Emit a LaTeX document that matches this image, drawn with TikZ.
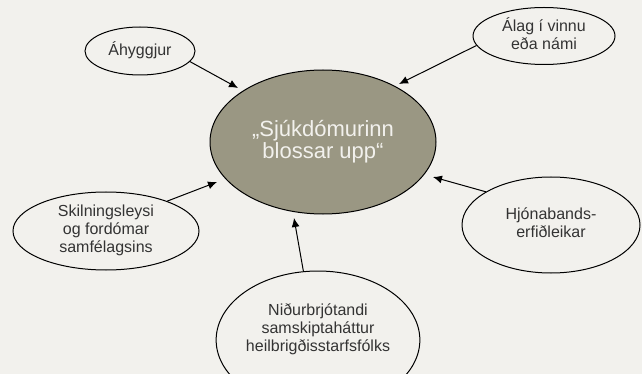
\documentclass[tikz,border=0pt]{standalone}
\usepackage{fontspec}
\setmainfont{Liberation Sans}
\usepackage{tikz}
\usetikzlibrary{shapes.geometric,arrows.meta}
\definecolor{paper}{HTML}{F2F1ED}
\definecolor{khaki}{HTML}{9A9783}
\definecolor{ink}{HTML}{333333}

\begin{document}
\begin{tikzpicture}[x=1pt,y=-1pt]
\tikzstyle{every node}=[draw,line width=1pt,shape=ellipse,inner sep=0pt,align=center,text=ink,text depth=4pt,font=\fontsize{16}{18}\selectfont];
\tikzstyle{cause}=[line width=1pt,-{Latex[length=9pt,width=8pt]}];
\useasboundingbox (0,0) rectangle (642,374);
\clip (0,0) rectangle (642,374);
\fill [paper] (0,0) rectangle (642,374);
\node [fill=khaki,text=paper,text depth=5pt,minimum width=226pt,minimum height=144pt,font=\fontsize{22}{21.5}\selectfont](flare) at (323,142) {„Sjúkdómurinn\\blossar upp“};
\node [minimum width=110pt,minimum height=48pt](worry) at (140,51) {Áhyggjur};
\node [minimum width=142pt,minimum height=57pt](strain) at (544,36) {Álag í vinnu\\eða námi};
\node [minimum width=186pt,minimum height=78pt](stigma) at (106,231) {Skilningsleysi\\og fordómar\\samfélagsins};
\node [minimum width=178pt,minimum height=96pt](marriage) at (551,225) {Hjónabands-\\erfiðleikar};
\node [minimum width=203pt,minimum height=138pt,text depth=25pt](staff) at (318,340) {Niðurbrjótandi\\samskiptaháttur\\heilbrigðisstarfsfólks};
\coordinate (t1) at (238,88);
\coordinate (t2) at (399,84);
\coordinate (t3) at (217,182);
\coordinate (t4) at (433,177);
\coordinate (t5) at (294,218);
\draw [cause] (worry.-12) -- (t1);
\draw [cause] (strain.188) -- (t2);
\draw [cause] (stigma.26) -- (t3);
\draw [cause] (marriage.153) -- (t4);
\draw [cause] (staff.102) -- (t5);
\end{tikzpicture}
\end{document}
